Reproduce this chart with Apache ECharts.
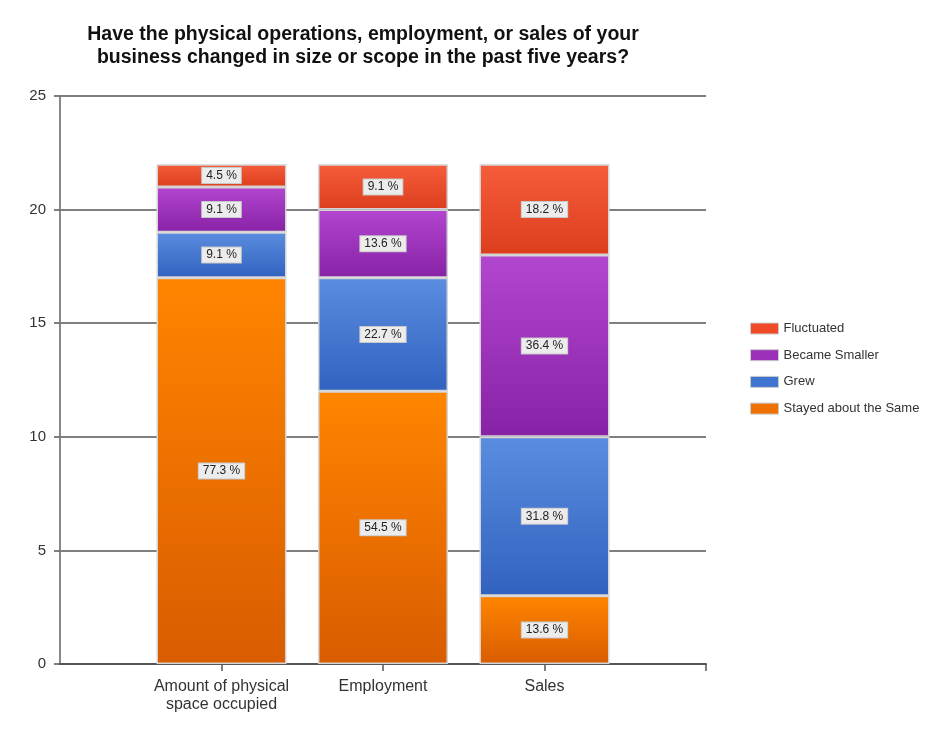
<!DOCTYPE html>
<html>
<head>
<meta charset="utf-8">
<script src="https://cdn.jsdelivr.net/npm/echarts@6/dist/echarts.min.js"></script>
<style>
html,body{margin:0;padding:0;background:#fff;}
#c{width:935px;height:734px;}
</style>
</head>
<body>
<div id="c"></div>
<script>
const categories = ['Amount of physical\nspace occupied', 'Employment', 'Sales'];
const seriesNames = ['Stayed about the Same', 'Grew', 'Became Smaller', 'Fluctuated'];
const stayedSame = [17, 12, 3];
const grew = [2, 5, 7];
const becameSmaller = [2, 3, 8];
const fluctuated = [1, 2, 4];
const yTicks = [0, 5, 10, 15, 20, 25];

const values = [stayedSame, grew, becameSmaller, fluctuated];
const totals = categories.map((_, i) => values.reduce((s, arr) => s + arr[i], 0));
const colors = [
  ['#ff8500', '#d95c00'],
  ['#5a8de0', '#3262bf'],
  ['#b346cf', '#8722a6'],
  ['#f65d3c', '#dc3e1c']
];
const legendColors = ['#f04a28', '#9a30b8', '#3f74d0', '#f07000'];

const xData = [''].concat(categories).concat(['']);
const FONT = 'Liberation Sans, Arial, sans-serif';

const chart = echarts.init(document.getElementById('c'), null, {renderer: 'canvas'});
const series = seriesNames.map((name, si) => ({
  name: name,
  type: 'bar',
  stack: 'total',
  barWidth: 130,
  data: ['-'].concat(values[si]).concat(['-']),
  itemStyle: {
    color: new echarts.graphic.LinearGradient(0, 0, 0, 1, [
      {offset: 0, color: colors[si][0]},
      {offset: 1, color: colors[si][1]}
    ]),
    borderColor: '#d4d4d4',
    borderWidth: 1.5
  },
  label: {
    show: true,
    position: 'inside',
    formatter: p => (p.value / totals[p.dataIndex - 1] * 100).toFixed(1) + ' %',
    color: '#222',
    fontFamily: FONT,
    fontSize: 12,
    backgroundColor: '#ececec',
    borderColor: '#c8c8c8',
    borderWidth: 1,
    padding: [2, 4, 1, 4]
  }
}));

chart.setOption({
  animation: false,
  backgroundColor: '#fff',
  title: {
    text: 'Have the physical operations, employment, or sales of your\nbusiness changed in size or scope in the past five years?',
    left: 358,
    textAlign: 'center',
    top: 18,
    textStyle: {
      fontFamily: FONT,
      fontWeight: 'bold',
      fontSize: 19.5,
      lineHeight: 23,
      color: '#111'
    }
  },
  legend: {
    orient: 'vertical',
    left: 745,
    top: 317,
    itemWidth: 28,
    itemHeight: 11,
    itemGap: 13.7,
    icon: 'rect',
    data: seriesNames.slice().reverse().map((n, i) => ({
      name: n,
      itemStyle: {color: legendColors[i], borderColor: '#ccc', borderWidth: 1}
    })),
    textStyle: {
      fontFamily: FONT,
      fontSize: 13,
      color: '#333'
    }
  },
  grid: {left: 60, right: 229, top: 96, bottom: 70, containLabel: false},
  xAxis: {
    type: 'category',
    data: xData,
    boundaryGap: false,
    axisLine: {show: true, lineStyle: {color: '#555', width: 2}},
    axisTick: {
      show: true,
      length: 7,
      interval: (idx) => idx > 0,
      lineStyle: {color: '#555', width: 1.5}
    },
    axisLabel: {
      interval: 0,
      margin: 14,
      fontFamily: FONT,
      fontSize: 16,
      lineHeight: 18,
      color: '#333'
    },
    splitLine: {show: false}
  },
  yAxis: {
    type: 'value',
    min: yTicks[0],
    max: yTicks[yTicks.length - 1],
    interval: 5,
    axisLine: {show: true, lineStyle: {color: '#888', width: 2}},
    axisTick: {show: true, length: 6, lineStyle: {color: '#555', width: 1.5}},
    axisLabel: {
      margin: 14,
      fontFamily: FONT,
      fontSize: 15,
      color: '#333'
    },
    splitLine: {show: true, lineStyle: {color: '#555', width: 1.5}}
  },
  series: series
});
</script>
</body>
</html>
